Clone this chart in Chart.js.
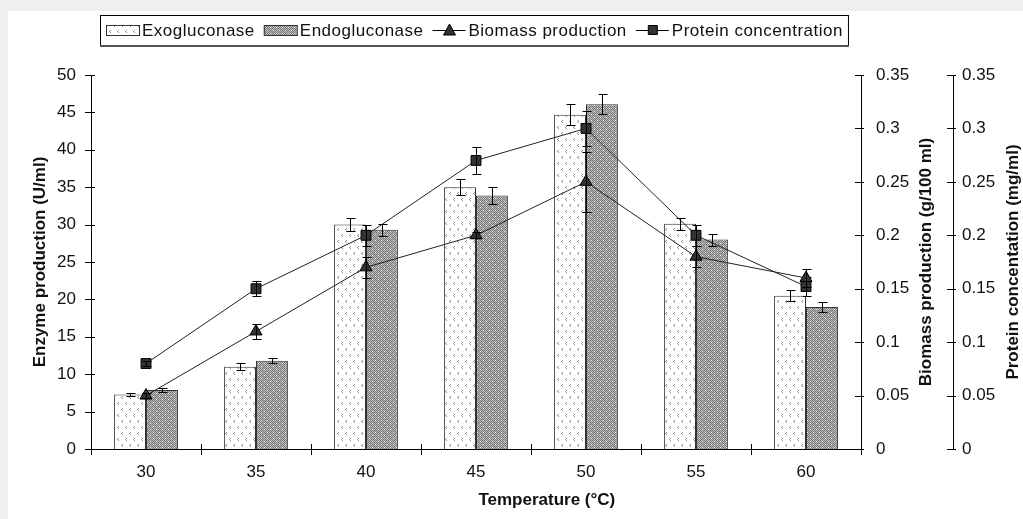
<!DOCTYPE html>
<html>
<head>
<meta charset="utf-8">
<script src="https://cdn.jsdelivr.net/npm/chart.js@4.4.0/dist/chart.umd.min.js"></script>
<style>
  html, body { margin: 0; padding: 0; background: #efefef; }
  #panel { position: absolute; left: 8px; top: 11px; width: 1015px; height: 508px; background: #fff; }
  canvas { display: block; }
</style>
</head>
<body>
<div id="panel"><canvas id="tempChart" width="1015" height="508"></canvas></div>
<script>
const temperatures = ['30', '35', '40', '45', '50', '55', '60'];

const exoglucanase = [7.3, 11.0, 30.0, 35.0, 44.7, 30.1, 20.5];
const exoError     = [0.15, 0.5, 0.9, 1.1, 1.4, 0.8, 0.7];
const endoglucanase = [7.9, 11.8, 29.3, 33.9, 46.1, 28.0, 19.0];
const endoError     = [0.3, 0.3, 0.8, 1.1, 1.3, 0.8, 0.7];

const biomass      = [0.05, 0.11, 0.17, 0.20, 0.25, 0.18, 0.16];
const biomassError = [0.002, 0.007, 0.01, 0.003, 0.028, 0.01, 0.008];
const protein      = [0.08, 0.15, 0.20, 0.27, 0.30, 0.20, 0.152];
const proteinError = [0.002, 0.007, 0.01, 0.013, 0.016, 0.01, 0.009];

const FONT = '"Liberation Sans", Arial, sans-serif';
const canvas = document.getElementById('tempChart');

function makePattern(w, h, draw) {
  const c = document.createElement('canvas');
  c.width = w; c.height = h;
  draw(c.getContext('2d'));
  return canvas.getContext('2d').createPattern(c, 'repeat');
}

// light dotted chevrons on white
const exoFill = makePattern(8, 12, g => {
  g.fillStyle = '#fff';
  g.fillRect(0, 0, 8, 12);
  g.fillStyle = '#8c8c8c';
  [[2, 1], [6, 7]].forEach(([x, y]) => {
    g.fillRect(x, y, 1, 1);
    g.fillRect(x - 1, y + 1, 1, 1);
    g.fillRect(x, y + 2, 1, 1);
  });
});

// dark dither with white specks
const endoFill = makePattern(6, 6, g => {
  g.fillStyle = '#7a7a7a';
  g.fillRect(0, 0, 6, 6);
  g.fillStyle = '#b8b8b8';
  for (let i = 0; i < 6; i++) for (let j = 0; j < 6; j++) if ((i + j) % 2 === 0) g.fillRect(i, j, 1, 1);
  g.fillStyle = '#fff';
  g.fillRect(1, 1, 1, 1);
  g.fillRect(4, 4, 1, 1);
});

const errorSets = [exoError, endoError, biomassError, proteinError];

const errorBars = {
  id: 'errorBars',
  afterDatasetDraw(chart, args) {
    const errs = errorSets[args.index];
    if (!errs) return;
    const { ctx } = chart;
    const meta = args.meta;
    const scale = chart.scales[meta.yAxisID];
    const values = chart.data.datasets[args.index].data;
    ctx.save();
    ctx.strokeStyle = '#000';
    ctx.lineWidth = 1;
    ctx.beginPath();
    meta.data.forEach((el, i) => {
      const px = Math.round(el.x) + 0.5;
      const yt = Math.round(scale.getPixelForValue(values[i] + errs[i])) + 0.5;
      const yb = Math.round(scale.getPixelForValue(values[i] - errs[i])) + 0.5;
      ctx.moveTo(px, yt); ctx.lineTo(px, yb);
      ctx.moveTo(px - 4, yt); ctx.lineTo(px + 5, yt);
      ctx.moveTo(px - 4, yb); ctx.lineTo(px + 5, yb);
    });
    ctx.stroke();
    ctx.restore();
  }
};

// tick marks crossing the axis lines, the x title and the rotated right-hand titles
const axisMarks = {
  id: 'axisMarks',
  afterDraw(chart) {
    const { ctx, chartArea } = chart;
    const { x, y, y1, y2 } = chart.scales;
    ctx.save();
    ctx.strokeStyle = '#000';
    ctx.lineWidth = 1;
    ctx.beginPath();
    y.ticks.forEach((t, i) => {
      const py = Math.round(y.getPixelForTick(i)) + 0.5;
      ctx.moveTo(chartArea.left - 6, py); ctx.lineTo(chartArea.left + 4, py);
    });
    [y1, y2].forEach(s => {
      s.ticks.forEach((t, i) => {
        const py = Math.round(s.getPixelForTick(i)) + 0.5;
        ctx.moveTo(s.left - 6, py); ctx.lineTo(s.left + 3, py);
      });
    });
    const n = temperatures.length;
    for (let i = 0; i <= n; i++) {
      const px = Math.round(x.left + i * x.width / n) + 0.5;
      ctx.moveTo(px, x.top - 5); ctx.lineTo(px, x.top + 6);
    }
    ctx.stroke();

    ctx.fillStyle = '#111';
    ctx.font = 'bold 17px ' + FONT;
    ctx.textAlign = 'center';
    ctx.textBaseline = 'middle';
    ctx.fillText('Temperature (°C)', x.left + x.width * 0.592, 489);
    const midY = (chartArea.top + chartArea.bottom) / 2;
    [[y1.left + 65, 'Biomass production (g/100 ml)'], [y2.left + 60, 'Protein concentation (mg/ml)']].forEach(([tx, text]) => {
      ctx.save();
      ctx.translate(tx, midY);
      ctx.rotate(-Math.PI / 2);
      ctx.fillText(text, 0, 0);
      ctx.restore();
    });
    ctx.restore();
  }
};

const legendItems = [
  { label: 'Exogluconase', fill: exoFill },
  { label: 'Endogluconase', fill: endoFill },
  { label: 'Biomass production', marker: 'triangle' },
  { label: 'Protein concentration', marker: 'rect' },
];

const boxedLegend = {
  id: 'boxedLegend',
  afterDraw(chart) {
    const { ctx } = chart;
    const left = 92, top = 4, h = 30, mid = top + h / 2;
    ctx.save();
    ctx.font = '17px ' + FONT;
    ctx.letterSpacing = '0.5px';
    ctx.textBaseline = 'middle';
    ctx.textAlign = 'left';
    ctx.lineWidth = 1;
    let x = left + 6;
    legendItems.forEach(item => {
      if (item.fill) {
        ctx.fillStyle = item.fill;
        ctx.fillRect(x, mid - 5, 33, 10);
        ctx.strokeStyle = '#333';
        ctx.strokeRect(x + 0.5, mid - 4.5, 33, 10);
      } else {
        ctx.strokeStyle = '#000';
        ctx.beginPath();
        ctx.moveTo(x, Math.round(mid) + 0.5); ctx.lineTo(x + 33, Math.round(mid) + 0.5);
        ctx.stroke();
        ctx.fillStyle = '#333';
        const cx = x + 17;
        ctx.beginPath();
        if (item.marker === 'triangle') {
          ctx.moveTo(cx, mid - 6); ctx.lineTo(cx + 6, mid + 5); ctx.lineTo(cx - 6, mid + 5);
        } else {
          ctx.rect(cx - 4.5, mid - 4.5, 9, 9);
        }
        ctx.closePath();
        ctx.fill();
        ctx.stroke();
      }
      x += 36;
      ctx.fillStyle = '#111';
      ctx.fillText(item.label, x, mid + 1);
      x += ctx.measureText(item.label).width + 9;
    });
    ctx.strokeStyle = '#000';
    ctx.strokeRect(left + 0.5, top + 0.5, x - left - 4, h);
    ctx.fillStyle = '#555';
    ctx.fillRect(left, top + h, x - left - 3, 2);
    ctx.restore();
  }
};

const tickFont = { family: FONT, size: 17 };
const fmt = v => String(+Number(v).toFixed(2));

new Chart(canvas, {
  type: 'bar',
  data: {
    labels: temperatures,
    datasets: [
      {
        label: 'Exogluconase', data: exoglucanase, yAxisID: 'y', order: 2,
        backgroundColor: exoFill, borderColor: '#333', borderWidth: 1,
        barPercentage: 1.0, categoryPercentage: 0.58,
      },
      {
        label: 'Endogluconase', data: endoglucanase, yAxisID: 'y', order: 2,
        backgroundColor: endoFill, borderColor: '#333', borderWidth: 1,
        barPercentage: 1.0, categoryPercentage: 0.58,
      },
      {
        type: 'line', label: 'Biomass production', data: biomass, yAxisID: 'y1', order: 1,
        borderColor: '#222', borderWidth: 1, tension: 0,
        pointStyle: 'triangle', pointRadius: 7, pointHoverRadius: 7,
        pointBackgroundColor: '#333', pointBorderColor: '#000', pointBorderWidth: 1,
      },
      {
        type: 'line', label: 'Protein concentration', data: protein, yAxisID: 'y2', order: 1,
        borderColor: '#222', borderWidth: 1, tension: 0,
        pointStyle: 'rect', pointRadius: 7, pointHoverRadius: 7,
        pointBackgroundColor: '#333', pointBorderColor: '#000', pointBorderWidth: 1,
      },
    ]
  },
  options: {
    responsive: false,
    animation: false,
    devicePixelRatio: 1,
    layout: { padding: { top: 64, left: 0, right: 0, bottom: 0 } },
    plugins: {
      legend: { display: false },
      tooltip: { enabled: false },
    },
    scales: {
      x: {
        offset: true,
        grid: { display: false, drawTicks: false },
        border: { color: '#000', width: 1 },
        ticks: { font: tickFont, color: '#111', padding: 13, maxRotation: 0 },
        afterFit: s => { s.height = 70; },
      },
      y: {
        position: 'left', min: 0, max: 50,
        grid: { display: false, drawTicks: false },
        border: { color: '#000', width: 1 },
        ticks: { stepSize: 5, font: tickFont, color: '#111', padding: 15 },
        title: { display: true, text: 'Enzyme production (U/ml)', color: '#111',
                 font: { family: FONT, size: 17, weight: 'bold' }, padding: { top: 22, bottom: 0 } },
        afterFit: s => { s.width = 83; },
      },
      y1: {
        position: 'right', min: 0, max: 0.35,
        grid: { display: false, drawTicks: false },
        border: { color: '#000', width: 1 },
        ticks: { stepSize: 0.05, font: tickFont, color: '#111', padding: 15, callback: fmt },
        afterFit: s => { s.width = 92; },
      },
      y2: {
        position: 'right', min: 0, max: 0.35,
        grid: { display: false, drawTicks: false },
        border: { color: '#000', width: 1 },
        ticks: { stepSize: 0.05, font: tickFont, color: '#111', padding: 9, callback: fmt },
        afterFit: s => { s.width = 70; },
      },
    }
  },
  plugins: [errorBars, axisMarks, boxedLegend]
});
</script>
</body>
</html>
